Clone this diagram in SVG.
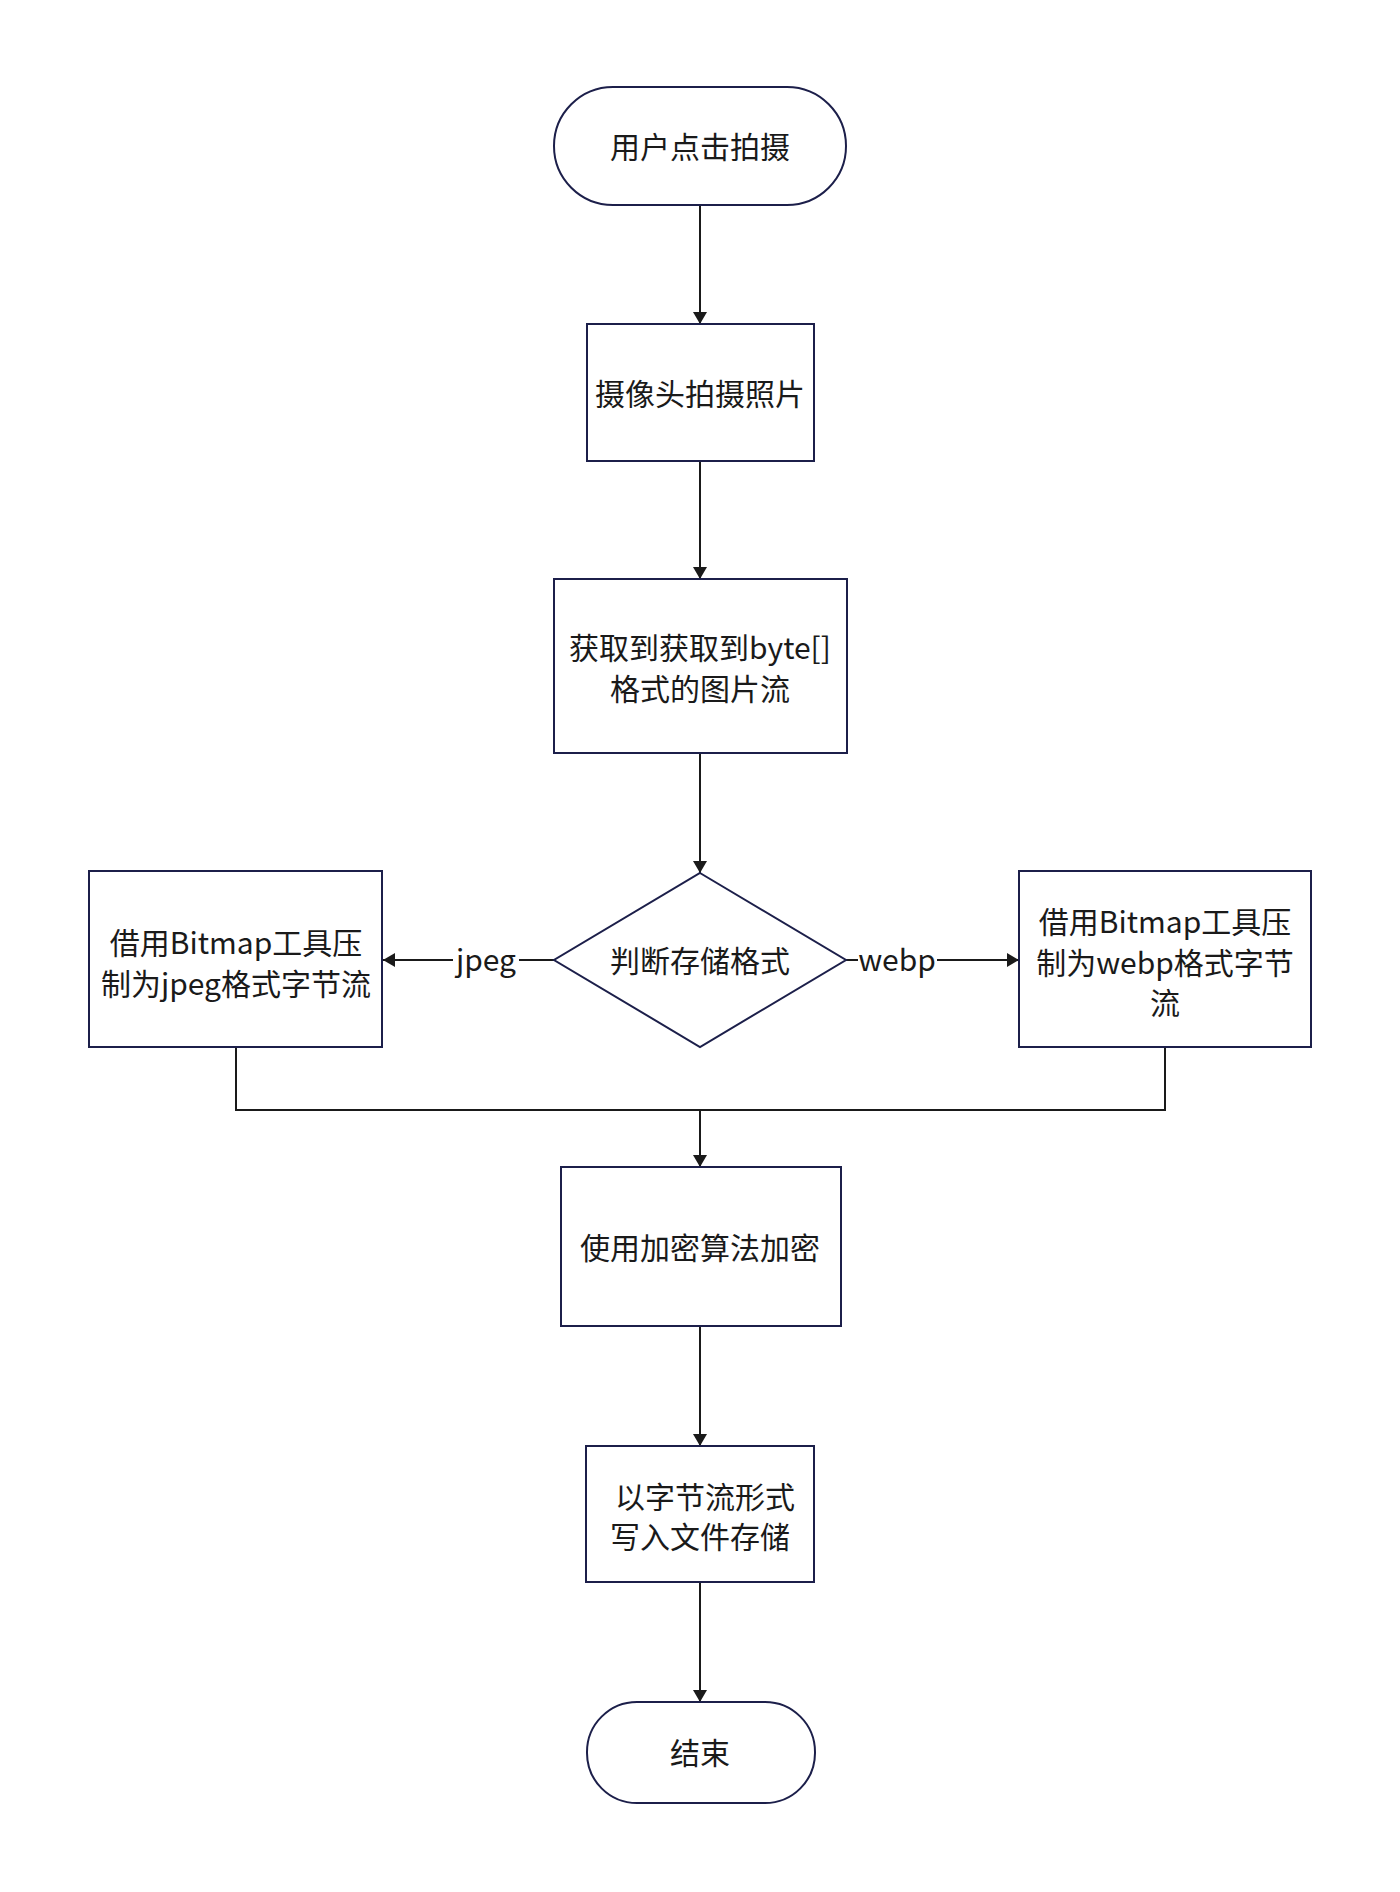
<svg xmlns="http://www.w3.org/2000/svg" width="1400" height="1892" viewBox="0 0 1400 1892">
<style>
.node{fill:#ffffff;stroke:#1c1f4a;stroke-width:2}
.t{font-family:"Noto Sans CJK SC","Liberation Sans",sans-serif;font-size:30px;fill:#1a1a1a;text-anchor:middle;dominant-baseline:central}
.c{fill:none;stroke:#1a1a1a;stroke-width:2}
</style>
<defs>
<marker id="arr" viewBox="0 0 12 14" refX="12" refY="7" markerWidth="12" markerHeight="14" markerUnits="userSpaceOnUse" orient="auto">
<path d="M0,0 L12,7 L0,14 Z" fill="#1a1a1a"/>
</marker>
</defs>
<rect width="1400" height="1892" fill="#ffffff"/>
<g id="connectors">
<line class="c" x1="700" y1="205" x2="700" y2="324" marker-end="url(#arr)"/>
<line class="c" x1="700" y1="461" x2="700" y2="579" marker-end="url(#arr)"/>
<line class="c" x1="700" y1="753" x2="700" y2="873" marker-end="url(#arr)"/>
<line class="c" x1="554" y1="960" x2="519" y2="960"/>
<line class="c" x1="453" y1="960" x2="383" y2="960" marker-end="url(#arr)"/>
<text class="t" x="486" y="958">jpeg</text>
<line class="c" x1="846" y1="960" x2="858" y2="960"/>
<line class="c" x1="937" y1="960" x2="1019" y2="960" marker-end="url(#arr)"/>
<text class="t" x="897" y="958">webp</text>
<polyline class="c" points="236,1047 236,1110 1165,1110 1165,1047"/>
<line class="c" x1="700" y1="1110" x2="700" y2="1167" marker-end="url(#arr)"/>
<line class="c" x1="700" y1="1326" x2="700" y2="1446" marker-end="url(#arr)"/>
<line class="c" x1="700" y1="1582" x2="700" y2="1702" marker-end="url(#arr)"/>
</g>
<g id="start">
<rect class="node" x="554" y="87" width="292" height="118" rx="59" ry="59"/>
<text class="t" x="700" y="145">用户点击拍摄</text>
</g>
<g id="capture">
<rect class="node" x="587" y="324" width="227" height="137"/>
<text class="t" x="700" y="392">摄像头拍摄照片</text>
</g>
<g id="getbytes">
<rect class="node" x="554" y="579" width="293" height="174"/>
<text class="t" x="700" y="646">获取到获取到byte[]</text>
<text class="t" x="700" y="687">格式的图片流</text>
</g>
<g id="decide">
<polygon class="node" points="700,873 846,960 700,1047 554,960"/>
<text class="t" x="700" y="959">判断存储格式</text>
</g>
<g id="jpegbox">
<rect class="node" x="89" y="871" width="293" height="176"/>
<text class="t" x="236" y="941">借用Bitmap工具压</text>
<text class="t" x="236" y="982">制为jpeg格式字节流</text>
</g>
<g id="webpbox">
<rect class="node" x="1019" y="871" width="292" height="176"/>
<text class="t" x="1165" y="920">借用Bitmap工具压</text>
<text class="t" x="1165" y="961">制为webp格式字节</text>
<text class="t" x="1165" y="1001">流</text>
</g>
<g id="encrypt">
<rect class="node" x="561" y="1167" width="280" height="159"/>
<text class="t" x="700" y="1246">使用加密算法加密</text>
</g>
<g id="write">
<rect class="node" x="586" y="1446" width="228" height="136"/>
<text class="t" x="705" y="1495">以字节流形式</text>
<text class="t" x="700" y="1535">写入文件存储</text>
</g>
<g id="end">
<rect class="node" x="587" y="1702" width="228" height="101" rx="50" ry="50"/>
<text class="t" x="700" y="1751">结束</text>
</g>
</svg>
